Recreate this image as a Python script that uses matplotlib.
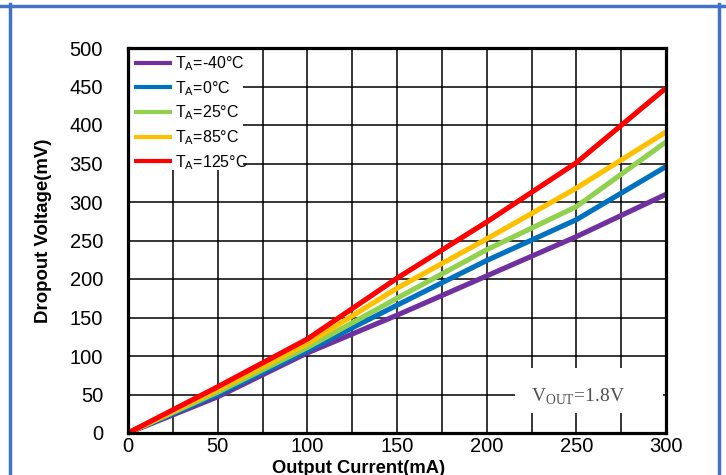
import matplotlib
matplotlib.use("Agg")
import matplotlib.pyplot as plt
from matplotlib.lines import Line2D
from matplotlib.patches import Rectangle
from matplotlib.ticker import MultipleLocator

plt.rcParams['font.family'] = ['Liberation Sans', 'DejaVu Sans']
plt.rcParams['mathtext.fontset'] = 'custom'
plt.rcParams['mathtext.rm'] = 'Liberation Sans'
plt.rcParams['mathtext.it'] = 'Liberation Sans'

# ---- data ----
current_mA = [0, 50, 100, 150, 200, 250, 300]
v_m40 = [0, 47, 104, 153, 204, 255, 310]
v_0 = [0, 50, 107, 166, 224, 277, 346]
v_25 = [0, 53, 111, 175, 238, 294, 378]
v_85 = [0, 56, 116, 188, 252, 318, 391]
v_125 = [0, 60, 122, 201, 274, 351, 448]

series = [
    (v_m40, '#7030A0', r'T$_\mathregular{A}$=-40°C'),
    (v_0, '#0070C0', r'T$_\mathregular{A}$=0°C'),
    (v_25, '#92D050', r'T$_\mathregular{A}$=25°C'),
    (v_85, '#FFC000', r'T$_\mathregular{A}$=85°C'),
    (v_125, '#FF0000', r'T$_\mathregular{A}$=125°C'),
]

W, H = 726, 475
fig = plt.figure(figsize=(W / 100, H / 100), dpi=100)
ax = fig.add_axes([128 / W, (H - 433) / H, (666 - 128) / W, (433 - 48) / H])

for vals, col, lab in series:
    ax.plot(current_mA, vals, color=col, lw=3.7, label=lab, zorder=3,
            solid_capstyle='butt', solid_joinstyle='round', clip_on=False)

ax.set_xlim(0, 300)
ax.set_ylim(0, 500)
ax.xaxis.set_major_locator(MultipleLocator(50))
ax.xaxis.set_minor_locator(MultipleLocator(25))
ax.yaxis.set_major_locator(MultipleLocator(50))
ax.grid(which='both', axis='x', color='black', lw=1.1, zorder=0.5)
ax.grid(which='major', axis='y', color='black', lw=1.1, zorder=0.5)
ax.set_axisbelow(True)
ax.tick_params(which='both', length=0)
ax.tick_params(axis='x', labelsize=14.5, pad=3)
ax.tick_params(axis='y', labelsize=14.5, pad=18)
for s in ax.spines.values():
    s.set_linewidth(2.3)
    s.set_color('black')
    s.set_zorder(4)

# white boxes behind legend and annotation
ax.add_patch(Rectangle((0, 0.683), 0.214, 0.317, transform=ax.transAxes,
                       facecolor='white', edgecolor='none', zorder=1.5))
ax.add_patch(Rectangle((0.719, 0.052), 0.275, 0.117, transform=ax.transAxes,
                       facecolor='white', edgecolor='none', zorder=1.5))

leg = ax.legend(loc='upper left', bbox_to_anchor=(0.0, 1.0), frameon=False,
                fontsize=11.5, handlelength=2.35, handletextpad=0.22,
                labelspacing=0.37, borderaxespad=0.2, borderpad=0.2)
for h in leg.get_lines():
    h.set_linewidth(3.0)
leg.set_zorder(5)

ax.text(0.836, 0.097, r'V$_\mathregular{OUT}$=1.8V', transform=ax.transAxes,
        ha='center', va='center', fontsize=14, color='#505050',
        family='Liberation Serif', zorder=6)

fig.text(359 / W, (H - 473) / H, 'Output Current(mA)', ha='center',
         va='baseline', fontsize=13.2, fontweight='bold')
fig.text(44 / W, 1 - 231 / H, 'Dropout Voltage(mV)', ha='center',
         va='center', rotation=90, fontsize=13.4, fontweight='bold')

# blue frame
blue = '#4472C4'
fig.add_artist(Line2D([0, W], [H - 5.5, H - 5.5], transform=None,
                      color=blue, lw=2.5))
fig.add_artist(Line2D([10, 10], [0, H - 4], transform=None,
                      color=blue, lw=2.5))
fig.add_artist(Line2D([719, 719], [0, H - 4], transform=None,
                      color=blue, lw=2.5))

fig.savefig('out.png', dpi=100)
